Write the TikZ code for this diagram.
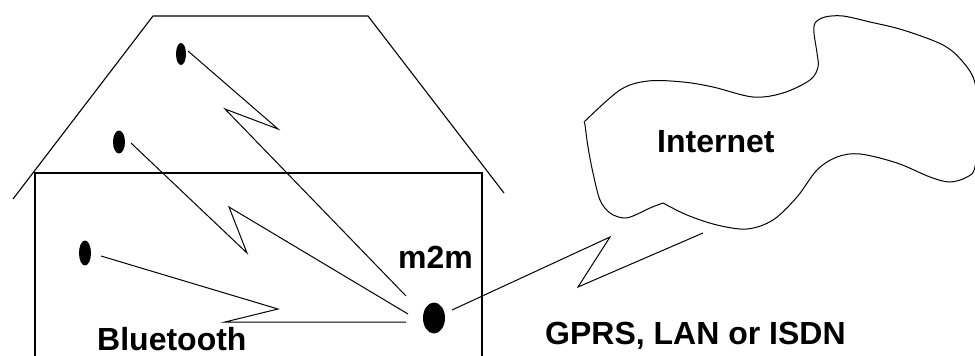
\documentclass[tikz,border=0pt]{standalone}
\usepackage{fontspec}
\setmainfont{Liberation Sans}
\usetikzlibrary{shapes.geometric}
\begin{document}
\begin{tikzpicture}[x=1pt,y=-1pt,
  wire/.style={line width=1pt, line join=miter, miter limit=20},
  outline/.style={line width=1.1pt},
  device/.style={ellipse, fill=black, draw=none, inner sep=0pt},
  caption/.style={anchor=base west, inner sep=0pt,
    font=\fontsize{32}{36}\selectfont\bfseries}]
\useasboundingbox (0,0) rectangle (975,356);

% house: roof and walls
\draw[outline] (13,199) -- (153,16) -- (368,16) -- (504,193);
\draw[outline] (35,360) -- (35,173) -- (482,173) -- (482,360);

% devices
\node[device, minimum width=10pt, minimum height=22pt] (d1) at (181,54) {};
\node[device, minimum width=12pt, minimum height=23pt] (d2) at (119,142) {};
\node[device, minimum width=12pt, minimum height=25pt] (d3) at (85,253) {};
\node[device, minimum width=22pt, minimum height=31pt] (hub) at (434,318) {};

% radio link ends
\coordinate (s1) at (188,51);
\coordinate (e1) at (406,296);
\coordinate (s2) at (131,143);
\coordinate (e2) at (408,314);
\coordinate (s3) at (101,256);
\coordinate (e3) at (406,322);
\coordinate (sh) at (452,310);
\coordinate (eh) at (703,233);

% bluetooth links
\draw[wire] (s1) -- (278,129) -- (225,109) -- (e1);
\draw[wire] (s2) -- (247,253) -- (229,207) -- (e2);
\draw[wire] (s3) -- (278,309) -- (225,322) -- (e3);

% uplink to the internet
\draw[wire] (sh) -- (610,237) -- (578,287) -- (eh);

% internet cloud
\draw[line width=1pt, line join=round]
  plot[smooth, tension=0.55] coordinates {
    (584,122) (620,90) (648,81) (683,82) (713,87) (753,97) (783,93)
    (810,80) (818,67) (817,53) (814,33) (815,23) (825,17) (843,16)
    (870,22) (903,30) (943,45) (963,62) (975,83) (979,125) (975,167)
    (967,177) (950,182) (930,177) (897,163) (860,154) (837,157)
    (817,170) (797,197) (773,220) (747,229) (717,225) (687,215) (663,203)}
  -- plot[smooth, tension=0.55] coordinates {
    (663,203) (650,208) (633,216) (623,218) (610,213) (600,200)
    (593,173) (588,147) (585,125) (584,122)};

% labels
\node[caption] (inet) at (657,152) {Internet};
\node[caption] (m2m) at (398,268) {m2m};
\node[caption] (bt) at (97,350) {Bluetooth};
\node[caption] (wan) at (545,344) {GPRS, LAN or ISDN};
\end{tikzpicture}
\end{document}
